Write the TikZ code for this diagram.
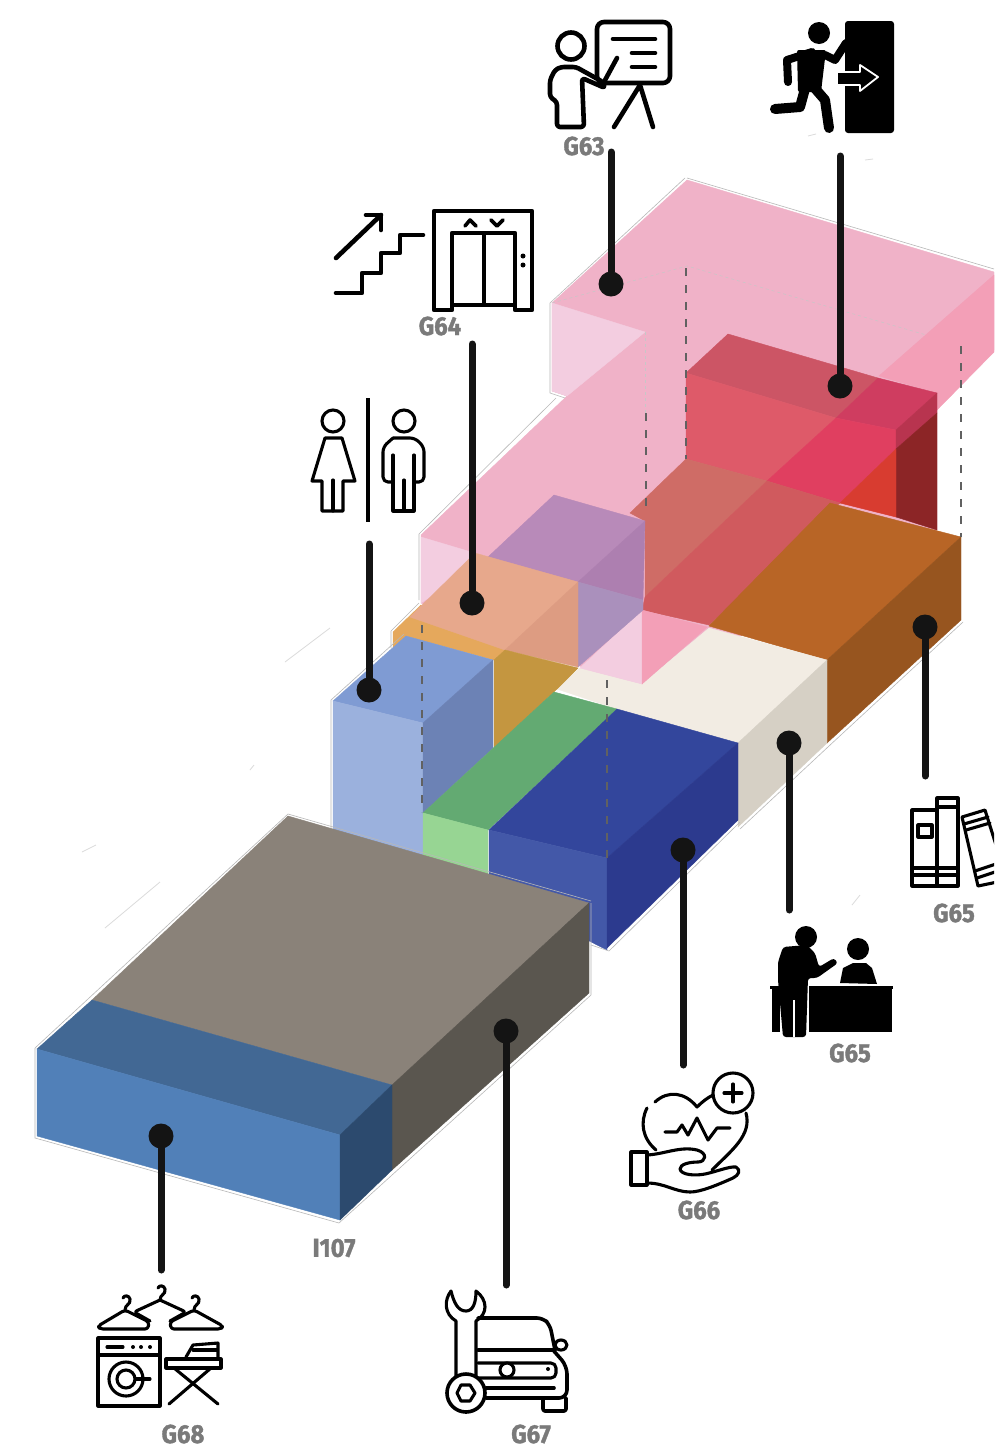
\documentclass[tikz,border=0pt]{standalone}
\usepackage{fontspec}
\setmainfont{Fira Sans}[FakeStretch=0.92, BoldFeatures={FakeBold=1.4}]
\usepackage{tikz}
\usetikzlibrary{positioning, calc}
\definecolor{pinktop}{HTML}{F0B2C8}
\definecolor{pinkpale}{HTML}{F3CDE0}
\definecolor{pinkhot}{HTML}{F39FB7}
\definecolor{redtop}{HTML}{CC5565}
\definecolor{redfront}{HTML}{DE5A69}
\definecolor{rosetop}{HTML}{CF3D60}
\definecolor{rosefront}{HTML}{E03F60}
\definecolor{roseside}{HTML}{B8344F}
\definecolor{redside}{HTML}{8C2526}
\definecolor{scarlet}{HTML}{D83C30}
\definecolor{coral}{HTML}{CF6C66}
\definecolor{coraldeep}{HTML}{D05A5E}
\definecolor{browntop}{HTML}{B86526}
\definecolor{brownside}{HTML}{97551F}
\definecolor{creamtop}{HTML}{F2ECE3}
\definecolor{creamside}{HTML}{D6D0C5}
\definecolor{plumtop}{HTML}{B88AB9}
\definecolor{plumside}{HTML}{AD7FB0}
\definecolor{plumlow}{HTML}{AA90BC}
\definecolor{amber}{HTML}{E5A85C}
\definecolor{peachtop}{HTML}{E7A88C}
\definecolor{peachside}{HTML}{DD9C82}
\definecolor{ochre}{HTML}{C49640}
\definecolor{skytop}{HTML}{7F9BD3}
\definecolor{skyfront}{HTML}{9BB1DD}
\definecolor{skyside}{HTML}{6C82B5}
\definecolor{greentop}{HTML}{63AA72}
\definecolor{greenfront}{HTML}{97D593}
\definecolor{navytop}{HTML}{33469C}
\definecolor{navyfront}{HTML}{4358A8}
\definecolor{navyside}{HTML}{2C3A8E}
\definecolor{graytop}{HTML}{8A8279}
\definecolor{grayside}{HTML}{5A564F}
\definecolor{steeltop}{HTML}{426894}
\definecolor{steelfront}{HTML}{5180B8}
\definecolor{steelside}{HTML}{2C4A6E}
\definecolor{tag}{HTML}{7A7A7A}

\begin{document}
\begin{tikzpicture}[
  x=1pt, y=-1pt,
  face/.style={fill=#1, draw=#1, line width=0.4pt},
  ghost/.style={draw=black!28, line width=0.6pt},
  speck/.style={draw=black!14, line width=0.8pt},
  hidden/.style={draw=black!62, line width=1.4pt, dash pattern=on 8pt off 9pt},
  faint/.style={draw=black!22, line width=0.5pt, dash pattern=on 3pt off 3pt},
  leader/.style={draw=black!92, line width=7pt, line cap=round},
  dot/.style={circle, fill=black!92, inner sep=0pt, minimum size=25pt},
  tagname/.style={inner sep=0pt, text=tag, font=\bfseries\fontsize{26}{26}\selectfont},
  ico/.style={draw=black, line width=4.6pt, line join=round, line cap=round},
  thinico/.style={draw=black, line width=3.1pt, line join=round, line cap=round},
  limb/.style={draw=black, line width=#1, line join=round, line cap=round}
]
  \clip (0,0) rectangle (994,1449);
  \fill[white] (0,0) rectangle (994,1449);

  \draw[speck] (285,662) -- (330,628);
  \draw[speck] (250,770) -- (254,765);
  \draw[speck] (82,852) -- (96,845);
  \draw[speck] (105,928) -- (160,882);
  \draw[speck] (808,136) -- (816,134);
  \draw[speck] (865,160) -- (873,159);
  \draw[speck] (852,905) -- (860,895);

  \draw[face=pinktop] (687,180) -- (994,272) -- (994,350) -- (937,408) -- (937,530) -- (640,690) -- (421,603) -- (421,535) -- (567,396) -- (552,391) -- (552,303) -- cycle;
  \draw[ghost] (687,178) -- (994,269);
  \draw[ghost] (685,178) -- (550,303) -- (550,393) -- (565,398);
  \draw[ghost] (556,398) -- (419,534) -- (419,600);
  \draw[faint] (552,303) -- (687,266) -- (961,345);
  \draw[faint] (645,332) -- (645,415);
  \draw[face=pinkpale] (552,303) -- (645,332) -- (567,396) -- (552,391) -- cycle;
  \draw[face=pinkpale] (421,537) -- (488,557) -- (421,603) -- cycle;
  \draw[face=pinkhot] (994,275) -- (994,352) -- (937,410) -- (937,393) -- (879,376) -- cycle;

  \draw[face=redtop] (728,334) -- (878,378) -- (836,418) -- (686,373) -- cycle;
  \draw[face=redfront] (686,373) -- (836,418) -- (767,481) -- (686,459) -- cycle;
  \draw[face=rosetop] (878,378) -- (937,393) -- (896,430) -- (836,418) -- cycle;
  \draw[face=rosefront] (836,418) -- (896,430) -- (896,449) -- (840,503) -- (767,481) -- cycle;
  \draw[face=roseside] (937,393) -- (937,413) -- (896,449) -- (896,430) -- cycle;
  \draw[face=redside] (937,413) -- (937,530) -- (896,517) -- (896,449) -- cycle;
  \draw[face=scarlet] (896,449) -- (896,517) -- (840,503) -- cycle;
  \draw[face=coral] (686,459) -- (767,481) -- (645,597) -- (645,521) -- (630,513) -- cycle;
  \draw[face=coraldeep] (767,481) -- (840,503) -- (709,625) -- (642,610) -- (645,597) -- cycle;

  \draw[face=browntop] (830,503) -- (961,537) -- (827,660) -- (709,626) -- cycle;
  \draw[face=brownside] (961,537) -- (961,620) -- (827,743) -- (827,660) -- cycle;
  \draw[ghost] (963,622) -- (829,746);

  \draw[face=creamtop] (557,689) -- (580,668) -- (642,684) -- (709,628) -- (827,660) -- (738,743) -- (617,709) -- cycle;
  \draw[face=creamside] (827,660) -- (827,743) -- (738,827) -- (738,743) -- cycle;
  \draw[ghost] (829,746) -- (740,829);

  \draw[face=pinkpale] (580,668) -- (642,610) -- (642,684) -- cycle;
  \draw[face=pinkhot] (642,610) -- (707,627) -- (642,684) -- cycle;

  \draw[face=plumtop] (554,495) -- (645,521) -- (578,582) -- (488,557) -- cycle;
  \draw[face=plumside] (645,521) -- (643,600) -- (578,582) -- cycle;
  \draw[face=plumlow] (578,582) -- (643,600) -- (643,610) -- (578,667) -- cycle;

  \draw[face=amber] (393,632) -- (421,605) -- (505,650) -- (494,660) -- (406,636) -- (393,648) -- cycle;
  \draw[face=peachtop] (475,553) -- (578,582) -- (505,650) -- (410,617) -- cycle;
  \draw[face=peachside] (578,582) -- (578,667) -- (505,650) -- cycle;
  \draw[face=ochre] (494,660) -- (505,650) -- (578,668) -- (557,689) -- (494,748) -- cycle;

  \draw[ghost] (331,828) -- (331,700) -- (404,634);
  \draw[ghost] (391,648) -- (391,631) -- (419,603);
  \draw[face=skytop] (406,636) -- (493,660) -- (423,723) -- (333,701) -- cycle;
  \draw[face=skyfront] (333,701) -- (423,723) -- (423,855) -- (333,830) -- cycle;
  \draw[face=skyside] (493,660) -- (493,748) -- (423,813) -- (423,723) -- cycle;

  \draw[face=greentop] (554,692) -- (617,709) -- (488,830) -- (423,813) -- cycle;
  \draw[face=greenfront] (423,813) -- (488,830) -- (488,880) -- (423,860) -- cycle;

  \draw[face=navytop] (617,709) -- (738,743) -- (607,858) -- (489,830) -- cycle;
  \draw[face=navyfront] (489,830) -- (607,858) -- (607,950) -- (489,890) -- cycle;
  \draw[face=navyside] (738,743) -- (738,820) -- (607,948) -- (607,858) -- cycle;
  \draw[ghost] (740,822) -- (609,951) -- (591,945);

  \draw[hidden] (686,268) -- (686,459);
  \draw[hidden] (646,413) -- (646,510);
  \draw[hidden] (961,346) -- (961,537);
  \draw[hidden] (422,625) -- (422,812);
  \draw[hidden] (607,680) -- (607,858);

  \draw[face=graytop] (288,816) -- (589,903) -- (392,1085) -- (92,1000) -- cycle;
  \draw[face=grayside] (589,903) -- (589,993) -- (392,1170) -- (392,1085) -- cycle;
  \draw[face=steeltop] (92,1000) -- (392,1085) -- (340,1135) -- (37,1049) -- cycle;
  \draw[face=steelfront] (37,1049) -- (340,1135) -- (340,1220) -- (37,1136) -- cycle;
  \draw[face=steelside] (392,1085) -- (392,1170) -- (340,1220) -- (340,1135) -- cycle;
  \draw[ghost] (35,1048) -- (35,1138) -- (339,1223) -- (591,995) -- (591,903);
  \draw[ghost] (35,1048) -- (288,814) -- (591,901);

  \node[dot] (d63) at (611,284) {};
  \node[dot] (dexit) at (840,386) {};
  \node[dot] (d64) at (472,603) {};
  \node[dot] (dwc) at (369,690) {};
  \node[dot] (dbooks) at (925,627) {};
  \node[dot] (ddesk) at (789,743) {};
  \node[dot] (d66) at (683,850) {};
  \node[dot] (d67) at (506,1031) {};
  \node[dot] (d68) at (161,1136) {};
  \coordinate (e63) at (611,152);
  \coordinate (eexit) at (840,156);
  \coordinate (e64) at (472,344);
  \coordinate (ewc) at (369,544);
  \coordinate (ebooks) at (925,776);
  \coordinate (edesk) at (789,910);
  \coordinate (e66) at (683,1065);
  \coordinate (e67) at (506,1285);
  \coordinate (e68) at (161,1270);
  \draw[leader] (e63) -- (d63);
  \draw[leader] (eexit) -- (dexit);
  \draw[leader] (e64) -- (d64);
  \draw[leader] (ewc) -- (dwc);
  \draw[leader] (ebooks) -- (dbooks);
  \draw[leader] (edesk) -- (ddesk);
  \draw[leader] (e66) -- (d66);
  \draw[leader] (e67) -- (d67);
  \draw[leader] (e68) -- (d68);

  \node[tagname] (g63) at (584,146) {G63};
  \node[tagname] (g64) at (440,326) {G64};
  \node[tagname] (g65a) at (954,913) {G65};
  \node[tagname] (g65b) at (850,1053) {G65};
  \node[tagname] (g66) at (699,1210) {G66};
  \node[tagname] (i107) at (334,1248) {I107};
  \node[tagname] (g67) at (531,1434) {G67};
  \node[tagname] (g68) at (183,1434) {G68};

  \draw[ico, rounded corners=7pt] (597,22) rectangle (670,83);
  \draw[ico] (613,39) -- (655,39);
  \draw[ico] (632,53) -- (655,53);
  \draw[ico] (632,67) -- (655,67);
  \draw[ico] (614,127) -- (640,85) -- (653,127);
  \draw[ico] (571,46) circle[radius=13.5];
  \draw[ico, rounded corners=3pt] (584,127) -- (557,127) -- (557,102) -- (550,97) -- (550,80) -- (555,70) -- (561,67) -- (576,67) -- (603,82) -- (605,88) -- (582,78) -- cycle;
  \draw[ico] (604,82) -- (617,58);

  \fill[black, rounded corners=3pt] (845,21) rectangle (894,133);
  \draw[fill=black, draw=white, line width=1.8pt, line join=round] (838,72) -- (860,72) -- (860,65) -- (878,77) -- (860,91) -- (860,85) -- (838,85);
  \fill[black] (819,33) circle[radius=11];
  \fill[black, rounded corners=2pt] (797,50) -- (826,50) -- (821,92) -- (798,92) -- cycle;
  \draw[limb=8pt] (812,52) -- (787,60) -- (788,82);
  \draw[limb=8pt] (825,55) -- (835,60) -- (846,43);
  \draw[limb=10pt] (806,85) -- (800,107) -- (775,109);
  \draw[limb=10pt] (812,85) -- (825,100) -- (829,128);

  \draw[ico] (336,258) -- (381,215);
  \draw[ico] (366,215) -- (381,215) -- (381,230);
  \draw[ico] (336,293) -- (362,293) -- (362,273) -- (381,273) -- (381,253) -- (400,253) -- (400,235) -- (423,235);
  \draw[ico, line cap=butt] (452,310) -- (434,310) -- (434,211) -- (532,211) -- (532,310) -- (515,310) -- (515,233) -- (452,233) -- cycle;
  \draw[thinico] (484,233) -- (484,305);
  \draw[thinico] (452,305) -- (515,305);
  \fill[black] (523,256) circle[radius=2.5];
  \fill[black] (523,265) circle[radius=2.5];
  \draw[ico, line width=3.6pt] (465,226) -- (470,220) -- (476,226);
  \draw[ico, line width=3.6pt] (491,220) -- (497,226) -- (503,220);

  \draw[limb=3.2pt, line cap=butt] (368,398) -- (368,522);
  \draw[thinico] (333,421) circle[radius=11];
  \draw[thinico] (325,438) -- (342,438) -- (355,481) -- (343,481) -- (343,511) -- (322,511) -- (322,481) -- (312,481) -- cycle;
  \draw[thinico] (333,480) -- (333,511);
  \draw[thinico] (404,421) circle[radius=11];
  \draw[thinico, rounded corners=5pt] (393,438) -- (415,438) -- (424,447) -- (424,482) -- (414,482);
  \draw[thinico, rounded corners=5pt] (393,438) -- (383,447) -- (383,482) -- (393,482);
  \draw[thinico] (393,455) -- (393,511) -- (414,511) -- (414,455);
  \draw[thinico] (404,480) -- (404,511);

  \draw[thinico] (912,810) rectangle (937,886);
  \draw[thinico] (937,798) rectangle (958,886);
  \draw[thinico] (918,825) rectangle (932,837);
  \draw[thinico] (912,868) -- (958,868);
  \draw[thinico] (912,875) -- (958,875);
  \draw[thinico] (937,807) -- (958,807);
  \draw[thinico] (962,817) -- (985,810) -- (1007,880) -- (978,886) -- cycle;
  \draw[thinico] (964,824) -- (988,817);
  \draw[thinico] (966,830) -- (990,823);
  \draw[thinico] (975,871) -- (999,863);
  \draw[thinico] (977,878) -- (1001,870);

  \fill[black] (806,937) circle[radius=11];
  \fill[black] (858,949) circle[radius=11];
  \fill[black] (840,983) -- (843,968) -- (853,963) -- (866,963) -- (872,968) -- (877,984) -- cycle;
  \fill[black] (770,986) rectangle (893,989);
  \fill[black] (809,988) rectangle (892,1032);
  \fill[black] (772,988) rectangle (780,1032);
  \draw[white, line width=2pt] (808,975) -- (808,1040);
  \fill[black, rounded corners=3pt] (778,980) -- (778,962) -- (783,947) -- (807,945) -- (815,953) -- (819,967) -- (834,958) -- (838,963) -- (817,978) -- (808,978) -- (806,1037) -- (783,1037) -- cycle;
  \draw[white, line width=1.2pt] (794,1000) -- (794,1037);

  \draw[thinico] (733,1093) circle[radius=20];
  \draw[thinico] (733,1084) -- (733,1102);
  \draw[thinico] (724,1093) -- (742,1093);
  \draw[thinico] (655,1102) .. controls (668,1090) and (685,1092) .. (697,1107) .. controls (702,1102) and (707,1098) .. (713,1095);
  \draw[thinico] (647,1108) .. controls (640,1122) and (642,1138) .. (656,1150);
  \draw[thinico] (746,1113) .. controls (752,1135) and (732,1150) .. (712,1170);
  \draw[thinico] (665,1132) -- (677,1132) -- (682,1125) -- (688,1135) -- (697,1118) -- (708,1140) -- (717,1128) -- (730,1128);
  \draw[thinico] (631,1152) rectangle (647,1185);
  \draw[thinico] (647,1155) .. controls (665,1154) and (680,1146) .. (697,1150) .. controls (708,1153) and (706,1162) .. (698,1162) .. controls (690,1162) and (680,1164) .. (680,1169) .. controls (681,1175) and (695,1176) .. (705,1174) .. controls (715,1172) and (730,1166) .. (736,1167) .. controls (741,1170) and (739,1175) .. (733,1178) .. controls (715,1186) and (700,1192) .. (690,1192) .. controls (675,1192) and (665,1183) .. (647,1183);

  \draw[thinico] (98,1338) rectangle (160,1406);
  \draw[thinico] (98,1355) -- (160,1355);
  \draw[thinico] (107,1347) -- (123,1347);
  \fill[black] (133,1347) circle[radius=2];
  \fill[black] (141,1347) circle[radius=2];
  \fill[black] (150,1347) circle[radius=2];
  \draw[thinico] (126,1379) circle[radius=17];
  \draw[thinico] (126,1379) circle[radius=9];
  \draw[thinico] (136,1379) -- (150,1379);
  \draw[thinico] (166,1359) rectangle (221,1368);
  \draw[thinico] (186,1357) -- (193,1345) -- (218,1343) -- (218,1357);
  \draw[thinico] (193,1350) -- (217,1350);
  \draw[thinico] (174,1368) -- (218,1404);
  \draw[thinico] (211,1368) -- (169,1404);
  \draw[thinico, rounded corners=3pt] (125,1310) -- (98,1326) -- (100,1329) -- (148,1329) -- (149,1322) -- cycle;
  \draw[thinico, rounded corners=3pt] (194,1310) -- (223,1326) -- (221,1329) -- (171,1329) -- (170,1322) -- cycle;
  \draw[thinico, rounded corners=3pt] (160,1300) -- (134,1312) -- (150,1321);
  \draw[thinico, rounded corners=3pt] (160,1300) -- (186,1312) -- (170,1321);
  \draw[thinico] (125,1310) .. controls (125,1304) and (131,1305) .. (130,1299) .. controls (129,1295) and (124,1295) .. (123,1298);
  \draw[thinico] (160,1300) .. controls (160,1294) and (166,1295) .. (165,1289) .. controls (164,1285) and (159,1285) .. (158,1288);
  \draw[thinico] (194,1310) .. controls (194,1304) and (200,1305) .. (199,1299) .. controls (198,1295) and (193,1295) .. (192,1298);

  \draw[thinico] (451,1291) .. controls (444,1300) and (444,1314) .. (456,1321) -- (456,1376);
  \draw[thinico] (476,1376) -- (476,1321) .. controls (488,1314) and (488,1300) .. (476,1291) .. controls (476,1303) and (473,1311) .. (466,1311) .. controls (458,1311) and (454,1303) .. (451,1291);
  \draw[ico, line width=3.6pt] (466,1393) circle[radius=19];
  \draw[thinico] (475,1393) -- (470,1401) -- (461,1401) -- (457,1393) -- (461,1385) -- (470,1385) -- cycle;
  \draw[ico, line width=3.6pt, rounded corners=6pt] (478,1318) -- (543,1318) -- (550,1325) -- (555,1350);
  \draw[ico, line width=3.6pt] (478,1350) -- (555,1350);
  \draw[ico, line width=3.6pt, rounded corners=8pt] (553,1350) -- (567,1366) -- (567,1398) -- (486,1398);
  \draw[ico, line width=3.6pt, rounded corners=2pt] (543,1398) -- (543,1411) -- (566,1411) -- (566,1398);
  \draw[thinico, rounded corners=5pt] (478,1363) -- (556,1363) -- (556,1378) -- (478,1378);
  \draw[thinico, fill=white] (507,1370) circle[radius=7];
  \fill[black] (548,1369) circle[radius=2];
  \draw[ico, line width=3.6pt] (486,1388) -- (554,1388);
  \draw[thinico] (561,1345) ellipse[x radius=6, y radius=5];
\end{tikzpicture}
\end{document}
